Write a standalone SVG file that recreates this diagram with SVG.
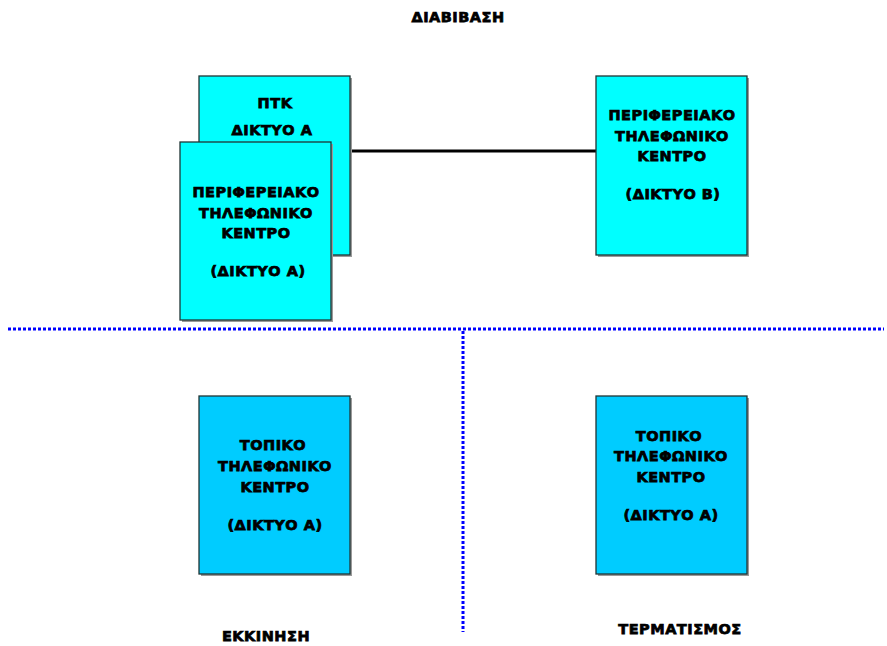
<svg xmlns="http://www.w3.org/2000/svg" width="887" height="646" viewBox="0 0 887 646">
<style>
text{font-family:"DejaVu Sans","Liberation Sans",sans-serif;font-weight:700;font-size:14.5px;letter-spacing:0.5px;fill:#000;stroke:#000;stroke-width:0.75;text-anchor:middle}
.cyan{fill:#00FFFF;stroke:#1f3535;stroke-width:1.3}
.blue{fill:#00CCFF;stroke:#1f3535;stroke-width:1.3}
.sh{fill:#9a9a9a}
.dot{stroke:#0000FF;stroke-width:3;stroke-dasharray:3 2;fill:none}
</style>
<rect width="887" height="646" fill="#fff"/>
<text x="458" y="22">ΔΙΑΒΙΒΑΣΗ</text>
<g id="connectors">
<line x1="350" y1="151" x2="596" y2="151" stroke="#000" stroke-width="3"/>
<line class="dot" x1="8" y1="329" x2="884" y2="329"/>
<line class="dot" x1="463" y1="331" x2="463" y2="632"/>
</g>
<g id="ptk">
<rect class="sh" x="201" y="78" width="151" height="179"/>
<rect class="cyan" x="199" y="76" width="151" height="179"/>
<text x="275" y="108">ΠΤΚ</text>
<text x="272" y="135">ΔΙΚΤΥΟ Α</text>
</g>
<g id="periph-a">
<rect class="sh" x="182" y="144" width="151" height="178"/>
<rect class="cyan" x="180" y="142" width="151" height="178"/>
<text x="256" y="197">ΠΕΡΙΦΕΡΕΙΑΚΟ</text>
<text x="256" y="218">ΤΗΛΕΦΩΝΙΚΟ</text>
<text x="256" y="238">ΚΕΝΤΡΟ</text>
<text x="258" y="276">(ΔΙΚΤΥΟ Α)</text>
</g>
<g id="periph-b">
<rect class="sh" x="598" y="78" width="151" height="179"/>
<rect class="cyan" x="596" y="76" width="151" height="179"/>
<text x="672" y="120">ΠΕΡΙΦΕΡΕΙΑΚΟ</text>
<text x="672" y="141">ΤΗΛΕΦΩΝΙΚΟ</text>
<text x="672" y="161">ΚΕΝΤΡΟ</text>
<text x="673" y="199">(ΔΙΚΤΥΟ Β)</text>
</g>
<g id="local-start">
<rect class="sh" x="201" y="398" width="151" height="178"/>
<rect class="blue" x="199" y="396" width="151" height="178"/>
<text x="273" y="450">ΤΟΠΙΚΟ</text>
<text x="275" y="471">ΤΗΛΕΦΩΝΙΚΟ</text>
<text x="275" y="492">ΚΕΝΤΡΟ</text>
<text x="275" y="530">(ΔΙΚΤΥΟ Α)</text>
</g>
<g id="local-end">
<rect class="sh" x="598" y="398" width="151" height="178"/>
<rect class="blue" x="596" y="396" width="151" height="178"/>
<text x="669" y="441">ΤΟΠΙΚΟ</text>
<text x="671" y="461">ΤΗΛΕΦΩΝΙΚΟ</text>
<text x="671" y="482">ΚΕΝΤΡΟ</text>
<text x="671" y="520">(ΔΙΚΤΥΟ Α)</text>
</g>
<text x="266" y="641">ΕΚΚΙΝΗΣΗ</text>
<text x="680" y="634">ΤΕΡΜΑΤΙΣΜΟΣ</text>
</svg>
